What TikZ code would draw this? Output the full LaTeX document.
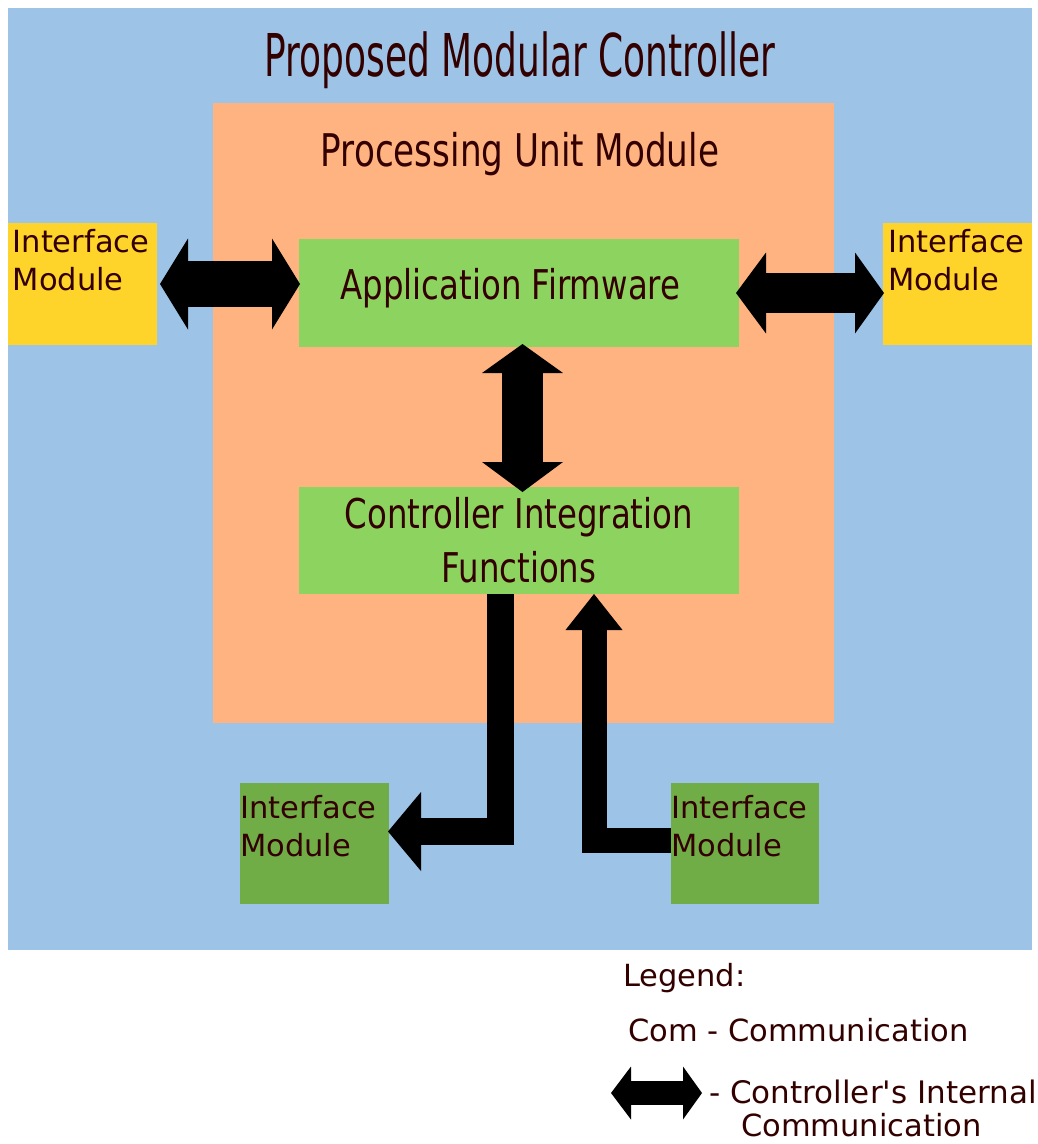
\documentclass[tikz,border=0pt]{standalone}
\usepackage{fontspec}
\setmainfont{DejaVu Sans}[Ligatures=TeXOff]
\newfontfamily\titlefont[FakeStretch=0.61]{DejaVu Sans}
\newfontfamily\headfont[FakeStretch=0.76]{DejaVu Sans}
\newfontfamily\boxfont[FakeStretch=0.79]{DejaVu Sans}
\usetikzlibrary{arrows.meta,calc}

\definecolor{ctrlblue}{HTML}{9DC3E6}
\definecolor{puorange}{HTML}{FFB381}
\definecolor{ifyellow}{HTML}{FFD42A}
\definecolor{fwgreen}{HTML}{8DD35F}
\definecolor{ifgreen}{HTML}{70AD47}
\definecolor{ink}{HTML}{330000}

\begin{document}
\begin{tikzpicture}[x=1pt,y=-1pt,
  panel/.style={draw=none, inner sep=0pt, outer sep=0pt, anchor=north west},
  bodytext/.style={text=ink, inner sep=0pt, font=\fontsize{30.5}{38}\selectfont},
  iflabel/.style={bodytext, anchor=north west, align=left},
  legendtext/.style={bodytext, anchor=base west},
  blockline/.style={draw=black, line join=miter, line cap=butt},
  dblL/.style={blockline, line width=46pt,
    {Triangle[width=91pt,length=28pt,line width=0pt]}-{Triangle[width=91pt,length=28pt,line width=0pt]}},
  dblR/.style={blockline, line width=40pt,
    {Triangle[width=81pt,length=30pt,line width=0pt]}-{Triangle[width=81pt,length=29pt,line width=0pt]}},
  dblV/.style={blockline, line width=41pt,
    {Triangle[width=81pt,length=29pt,line width=0pt]}-{Triangle[width=81pt,length=30pt,line width=0pt]}},
  outarrow/.style={blockline, line width=27pt,
    -{Triangle[width=79pt,length=33pt,line width=0pt]}},
  inarrow/.style={blockline, line width=25pt,
    -{Triangle[width=57pt,length=36pt,line width=0pt]}},
  dblS/.style={blockline, line width=24pt,
    {Triangle[width=53pt,length=20pt,line width=0pt]}-{Triangle[width=53pt,length=19pt,line width=0pt]}}
]
\useasboundingbox (0,0) rectangle (1038,1144);
\fill[white] (0,0) rectangle (1038,1144);

% containers
\node[panel, fill=ctrlblue, minimum width=1024pt, minimum height=942pt] (ctrl) at (8,8) {};
\node[panel, fill=puorange, minimum width=621pt, minimum height=620pt] (pu) at (213,103) {};

% interface modules
\node[panel, fill=ifyellow, minimum width=149pt, minimum height=122pt] (il) at (8,223) {};
\node[panel, fill=ifyellow, minimum width=149pt, minimum height=122pt] (ir) at (883,223) {};
\node[panel, fill=ifgreen, minimum width=149pt, minimum height=121pt] (bl) at (240,783) {};
\node[panel, fill=ifgreen, minimum width=148pt, minimum height=121pt] (br) at (671,783) {};

% firmware blocks
\node[panel, fill=fwgreen, minimum width=440pt, minimum height=108pt] (app) at (299,239) {};
\node[panel, fill=fwgreen, minimum width=440pt, minimum height=107pt,
      text=ink, align=center, font=\boxfont\fontsize{41}{54}\selectfont]
      (cif) at (299,487) {Controller Integration\\Functions};

% titles
\node[text=ink, inner sep=0pt, anchor=base, font=\titlefont\fontsize{59}{70}\selectfont]
      (title) at (520,76) {Proposed Modular Controller};
\node[text=ink, inner sep=0pt, anchor=base, font=\headfont\fontsize{45}{54}\selectfont]
      (puname) at (520,166) {Processing Unit Module};
\node[text=ink, inner sep=0pt, anchor=base, font=\boxfont\fontsize{41}{54}\selectfont]
      (appname) at (510.5,299) {Application Firmware};

% interface labels
\node[iflabel] (illab) at ($(il.north west)+(4.5,6)$) {Interface\\Module};
\node[iflabel] (irlab) at ($(ir.north west)+(5,6)$) {Interface\\Module};
\node[iflabel] (bllab) at ($(bl.north west)+(0,12)$) {Interface\\Module};
\node[iflabel] (brlab) at ($(br.north west)+(0,12)$) {Interface\\Module};

% internal communication
\draw[dblL, shorten >=-1pt] ($(il.east)+(3,0)$) -- (app.west |- il.east);
\draw[dblR, shorten <=-3pt, shorten >=-1pt] (app.east) -- (ir.west |- app.east);
\draw[dblV, shorten <=-3pt, shorten >=-5pt] ($(app.south)+(3.5,0)$) -- ($(cif.north)+(3.5,0)$);
\draw[outarrow] ($(cif.south)+(-19,0)$) |- ($(bl.east)+(-1,-12)$);
\draw[inarrow] ($(br.west)+(0,-3)$) -| ($(cif.south)+(75,0)$);

% legend
\node[legendtext] (lgtitle) at (623,986) {Legend:};
\node[legendtext] (lgcom) at (628,1041) {Com - Communication};
\coordinate (lgA) at (611,1093);
\coordinate (lgB) at (702,1093);
\draw[dblS] (lgA) -- (lgB);
\node[legendtext, font=\fontsize{31}{38}\selectfont] (lgint) at (709,1103) {- Controller's Internal};
\node[legendtext] (lgint2) at (741,1136) {Communication};
\end{tikzpicture}
\end{document}
